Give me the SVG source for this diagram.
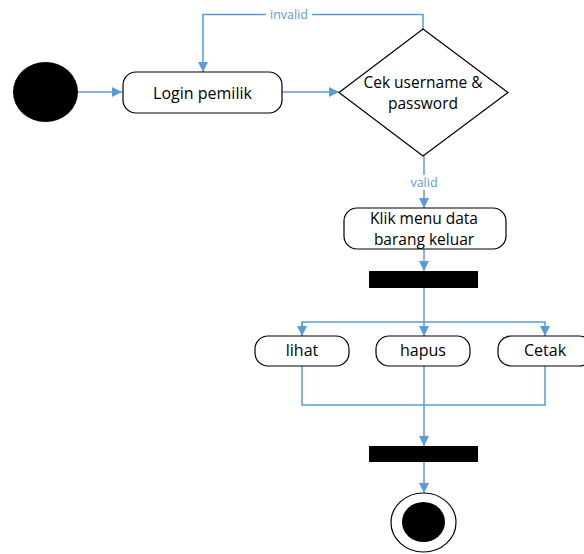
<svg xmlns="http://www.w3.org/2000/svg" width="584" height="554" viewBox="0 0 584 554">
<defs>
<style>
.box{fill:#fff;stroke:#000;stroke-width:1.2}
.lbl{font-family:"Open Sans","Noto Sans",sans-serif;font-size:16px;fill:#000;text-anchor:middle;dominant-baseline:central}
.two{font-size:15.5px}
.small{font-family:"Open Sans","Noto Sans",sans-serif;font-size:12.5px;fill:#5B9BD5;text-anchor:middle;dominant-baseline:central}
.con{fill:none;stroke:#5B9BD5;stroke-width:1.5}
.bar{fill:#000}
</style>
<marker id="arr" viewBox="0 0 10 10" refX="10" refY="5" markerWidth="10" markerHeight="10" markerUnits="userSpaceOnUse" orient="auto">
<path d="M0,0 L10,5 L0,10 z" fill="#5B9BD5"/>
</marker>
</defs>
<rect width="584" height="554" fill="#fff"/>
<g id="connectors">
<path class="con" d="M78,92 H122" marker-end="url(#arr)"/>
<path class="con" d="M282,92 H339" marker-end="url(#arr)"/>
<path class="con" d="M423,29 V14.5 H203 V72" marker-end="url(#arr)"/>
<path class="con" d="M424,156 V208" marker-end="url(#arr)"/>
<path class="con" d="M424,249 V271" marker-end="url(#arr)"/>
<path class="con" d="M424,288 V322"/>
<path class="con" d="M302,336 V322 H545 V336" marker-end="url(#arr)"/>
<path class="con" d="M302,322 V336" marker-end="url(#arr)"/>
<path class="con" d="M424,322 V336" marker-end="url(#arr)"/>
<path class="con" d="M302,366 V405 H545 V366"/>
<path class="con" d="M424,366 V446" marker-end="url(#arr)"/>
<path class="con" d="M424,462 V493" marker-end="url(#arr)"/>
<rect x="266" y="7" width="46" height="15" fill="#fff"/>
<text class="small" x="289" y="14">invalid</text>
<rect x="406" y="175" width="36" height="15" fill="#fff"/>
<text class="small" x="424" y="182">valid</text>
</g>
<g id="start">
<ellipse cx="45.5" cy="92" rx="32.5" ry="30" fill="#000"/>
</g>
<g id="login">
<rect class="box" x="123" y="72" width="159" height="41" rx="13"/>
<text class="lbl" x="202.5" y="93">Login pemilik</text>
</g>
<g id="cek">
<polygon class="box" points="423,29 508,92.5 423,156 339,92.5"/>
<text class="lbl two" x="423" y="82">Cek username &amp;</text>
<text class="lbl two" x="423" y="103">password</text>
</g>
<g id="klik">
<rect class="box" x="344" y="208" width="162" height="41" rx="13"/>
<text class="lbl two" x="424" y="218">Klik menu data</text>
<text class="lbl two" x="424" y="239">barang keluar</text>
</g>
<g id="fork">
<rect class="bar" x="369" y="271" width="109" height="17"/>
</g>
<g id="lihat">
<rect class="box" x="255" y="336" width="94" height="30" rx="13"/>
<text class="lbl" x="302" y="350">lihat</text>
</g>
<g id="hapus">
<rect class="box" x="376" y="336" width="94" height="30" rx="13"/>
<text class="lbl" x="423" y="350">hapus</text>
</g>
<g id="cetak">
<rect class="box" x="498" y="336" width="94" height="30" rx="13"/>
<text class="lbl" x="545" y="350">Cetak</text>
</g>
<g id="join">
<rect class="bar" x="369" y="446" width="109" height="16"/>
</g>
<g id="end">
<ellipse cx="423.5" cy="522.5" rx="32.5" ry="29.5" fill="#fff" stroke="#000" stroke-width="1.2"/>
<ellipse cx="423.5" cy="522" rx="21.5" ry="20" fill="#000"/>
</g>
</svg>
